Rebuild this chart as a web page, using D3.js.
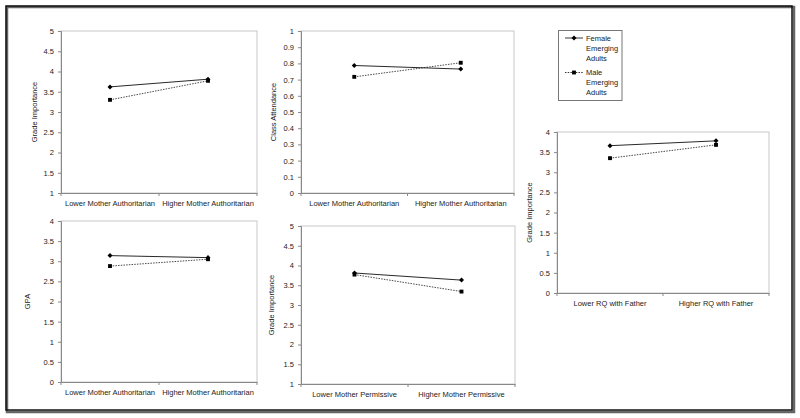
<!DOCTYPE html>
<html><head><meta charset="utf-8">
<script src="https://cdn.jsdelivr.net/npm/d3@7"></script>
<style>body{margin:0;background:#fff}svg{display:block}text{font-family:"Liberation Sans",Arial,sans-serif;fill:#222}</style>
</head><body><svg id="c" width="800" height="418"></svg>
<script>
// ---- data ----
const catsAuth = ["Lower Mother Authoritarian", "Higher Mother Authoritarian"];
const catsPerm = ["Lower Mother Permissive", "Higher Mother Permissive"];
const catsFather = ["Lower RQ with Father", "Higher RQ with Father"];
const seriesNames = ["Female Emerging Adults", "Male Emerging Adults"];

const gradeAuthFemale = [3.62, 3.81];
const gradeAuthMale = [3.30, 3.77];
const attendFemale = [0.787, 0.765];
const attendMale = [0.717, 0.804];
const gpaFemale = [3.14, 3.09];
const gpaMale = [2.88, 3.05];
const gradePermFemale = [3.81, 3.63];
const gradePermMale = [3.77, 3.34];
const gradeFatherFemale = [3.66, 3.78];
const gradeFatherMale = [3.35, 3.68];

const ticksGrade1to5 = [1, 1.5, 2, 2.5, 3, 3.5, 4, 4.5, 5];
const ticksAttend = [0, 0.1, 0.2, 0.3, 0.4, 0.5, 0.6, 0.7, 0.8, 0.9, 1];
const ticks0to4 = [0, 0.5, 1, 1.5, 2, 2.5, 3, 3.5, 4];

// ---- layout ----
const panels = [
  {x0:61, x1:257, y0:31, y1:193, dom:[1,5], ticks:ticksGrade1to5, cats:catsAuth, f:gradeAuthFemale, m:gradeAuthMale, title:"Grade Importance", tx:37, ly:203},
  {x0:301, x1:514, y0:31, y1:193, dom:[0,1], ticks:ticksAttend, cats:catsAuth, f:attendFemale, m:attendMale, title:"Class Attendance", tx:276, ly:203},
  {x0:61, x1:257, y0:221, y1:382, dom:[0,4], ticks:ticks0to4, cats:catsAuth, f:gpaFemale, m:gpaMale, title:"GPA", tx:30, ly:392},
  {x0:301, x1:515, y0:226, y1:384, dom:[1,5], ticks:ticksGrade1to5, cats:catsPerm, f:gradePermFemale, m:gradePermMale, title:"Grade Importance", tx:274, ly:394},
  {x0:557, x1:769, y0:132, y1:293, dom:[0,4], ticks:ticks0to4, cats:catsFather, f:gradeFatherFemale, m:gradeFatherMale, title:"Grade Importance", tx:532, ly:303}
];

const FS = "7.5px";
const svg = d3.select("#c");
// outer frame
svg.append("rect").attr("x",7).attr("y",7).attr("width",787).attr("height",405).attr("fill","none").attr("stroke","#666").attr("stroke-width",2.5);
svg.append("rect").attr("x",6).attr("y",6).attr("width",786).attr("height",404).attr("fill","none").attr("stroke","#111").attr("stroke-width",1.5);

const diamond = d3.symbol().type(d3.symbolDiamond2).size(16);
const square = d3.symbol().type(d3.symbolSquare).size(15);
const fmt = d => String(+d.toFixed(1));

panels.forEach(p => {
  const g = svg.append("g");
  const x = d3.scaleBand().domain(p.cats).range([p.x0, p.x1]);
  const y = d3.scaleLinear().domain(p.dom).range([p.y1, p.y0]);
  g.append("rect").attr("x",p.x0).attr("y",p.y0).attr("width",p.x1-p.x0).attr("height",p.y1-p.y0)
    .attr("fill","none").attr("stroke","#c8c8c8").attr("stroke-width",1);
  const ya = g.append("g").attr("transform",`translate(${p.x0},0)`)
    .call(d3.axisLeft(y).tickValues(p.ticks).tickFormat(fmt).tickSize(3).tickPadding(4));
  ya.select(".domain").attr("stroke","#888");
  ya.selectAll(".tick line").attr("stroke","#888");
  ya.selectAll("text").style("font-size",FS).attr("fill","#222");
  const xa = g.append("g").attr("transform",`translate(0,${p.y1})`)
    .call(d3.axisBottom(x).tickSize(0).tickPadding(p.ly - p.y1 - 2));
  xa.select(".domain").attr("stroke","#888");
  xa.selectAll("text").style("font-size",FS).attr("fill","#222");
  const bounds = [p.x0, (p.x0+p.x1)/2, p.x1];
  g.selectAll(".bt").data(bounds).enter().append("line")
    .attr("x1",d=>d).attr("x2",d=>d).attr("y1",p.y1).attr("y2",p.y1+3).attr("stroke","#888");
  g.append("text").attr("transform",`translate(${p.tx},${(p.y0+p.y1)/2}) rotate(-90)`)
    .attr("text-anchor","middle").style("font-size",FS).text(p.title);
  const cx = c => x(c) + x.bandwidth()/2;
  const line = d3.line().x(d=>cx(d.c)).y(d=>y(d.v));
  const fd = p.cats.map((c,i)=>({c, v:p.f[i]}));
  const md = p.cats.map((c,i)=>({c, v:p.m[i]}));
  g.append("path").attr("d",line(md)).attr("fill","none").attr("stroke","#333").attr("stroke-width",0.9).attr("stroke-dasharray","1.5,1.2");
  g.append("path").attr("d",line(fd)).attr("fill","none").attr("stroke","#111").attr("stroke-width",0.9);
  g.selectAll(".ms").data(md).enter().append("path").attr("d",square)
    .attr("transform",d=>`translate(${cx(d.c)},${y(d.v)})`).attr("fill","#000");
  g.selectAll(".fs").data(fd).enter().append("path").attr("d",diamond)
    .attr("transform",d=>`translate(${cx(d.c)},${y(d.v)})`).attr("fill","#000");
});

// legend
const lg = svg.append("g");
lg.append("rect").attr("x",558.5).attr("y",30.5).attr("width",63.5).attr("height",70).attr("fill","#fff").attr("stroke","#777");
const legendRows = [
  {name: seriesNames[0], y:38, dash:null, sym:diamond},
  {name: seriesNames[1], y:72.5, dash:"1.5,1.2", sym:square}
];
legendRows.forEach(r => {
  lg.append("line").attr("x1",565).attr("x2",583).attr("y1",r.y).attr("y2",r.y).attr("stroke","#222").attr("stroke-width",0.9).attr("stroke-dasharray",r.dash);
  lg.append("path").attr("d",r.sym).attr("transform",`translate(574,${r.y})`).attr("fill","#000");
  const words = r.name.split(" ");
  const t = lg.append("text").attr("x",586).attr("y",r.y+2.5).style("font-size",FS);
  words.forEach((w,i)=> t.append("tspan").attr("x",586).attr("dy", i===0?0:10).text(w));
});
</script></body></html>
